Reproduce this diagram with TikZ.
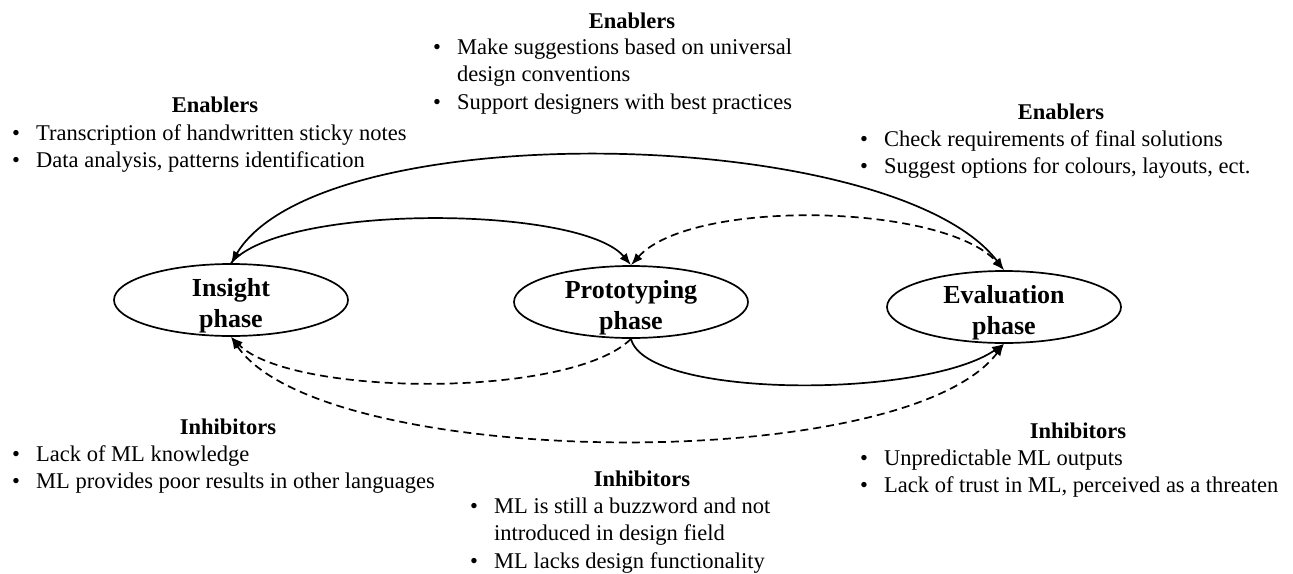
\documentclass[tikz,border=0pt]{standalone}
\usepackage{fontspec}
\setmainfont{Liberation Serif}
\usetikzlibrary{shapes.geometric,arrows.meta}

\tikzset{
    phase/.style={ellipse, draw, line width=1.7pt, minimum width=234pt,
        minimum height=72pt, inner sep=0pt, inner ysep=-2pt,
        text height=54pt, text depth=0pt,
        align=center, font=\fontsize{26}{31}\selectfont\bfseries},
    head/.style={anchor=base, inner sep=0pt,
        font=\fontsize{22.5}{27.5}\selectfont\bfseries},
    items/.style={anchor=base west, inner sep=0pt,
        font=\fontsize{22.5}{27.5}\selectfont},
    link/.style={line width=1.7pt, -{Latex[length=12pt,width=9pt]}},
    both/.style={line width=1.7pt,
        {Latex[length=12pt,width=9pt]}-{Latex[length=12pt,width=9pt]}},
    weak/.style={dash pattern=on 8pt off 5pt}
}
\newcommand{\bl}{\makebox[24pt][l]{\textbullet}}
\newcommand{\ind}{\hspace*{24pt}}

\begin{document}
\begin{tikzpicture}[x=1pt, y=-1pt]
    \useasboundingbox (0,0) rectangle (1293,573);

    \node[phase] (ins) at (231,300) {Insight\\phase};
    \node[phase] (pro) at (631,302) {Prototyping\\phase};
    \node[phase] (eva) at (1004,307) {Evaluation\\phase};

    \node[head] (e0) at (632,28.5) {Enablers};
    \node[items] (pe0) at (433,54)
            {\begin{tabular}[t]{@{}l@{}}
                \bl Make suggestions based on universal \\
                \ind design conventions \\
                \bl Support designers with best practices
            \end{tabular}};
    \node[head] (e1) at (215,112.5) {Enablers};
    \node[items] (pe1) at (12,140)
            {\begin{tabular}[t]{@{}l@{}}
                \bl Transcription of handwritten sticky notes \\
                \bl Data analysis, patterns identification
            \end{tabular}};
    \node[head] (e2) at (1061,119.5) {Enablers};
    \node[items] (pe2) at (860,146)
            {\begin{tabular}[t]{@{}l@{}}
                \bl Check requirements of final solutions \\
                \bl Suggest options for colours, layouts, ect.
            \end{tabular}};

    \node[head] (i1) at (228,434) {Inhibitors};
    \node[items] (pi1) at (12,461)
            {\begin{tabular}[t]{@{}l@{}}
                \bl Lack of ML knowledge \\
                \bl ML provides poor results in other languages
            \end{tabular}};
    \node[head] (i0) at (642,486) {Inhibitors};
    \node[items] (pi0) at (470,513)
            {\begin{tabular}[t]{@{}l@{}}
                \bl ML is still a buzzword and not \\
                \ind introduced in design field \\
                \bl ML lacks design functionality
            \end{tabular}};
    \node[head] (i2) at (1078,438) {Inhibitors};
    \node[items] (pi2) at (860,465)
            {\begin{tabular}[t]{@{}l@{}}
                \bl Unpredictable ML outputs \\
                \bl Lack of trust in ML, perceived as a threaten
            \end{tabular}};

    \draw[link] (ins.north) .. controls +(50,-60) and +(-50,-60) .. (pro.north);
    \draw[both] (eva.north) .. controls +(-110,-145) and +(90,-150) .. (ins.north);
    \draw[both, weak] (pro.north) .. controls +(60,-67) and +(-60,-67) .. (eva.north);
    \draw[link] (pro.south) .. controls +(15,60) and +(-80,55) .. (eva.south);
    \draw[link, weak] (pro.south) .. controls +(-60,60) and +(60,60) .. (ins.south);
    \draw[both, weak] (eva.south) .. controls +(-100,133) and +(90,133) .. (ins.south);
\end{tikzpicture}
\end{document}
